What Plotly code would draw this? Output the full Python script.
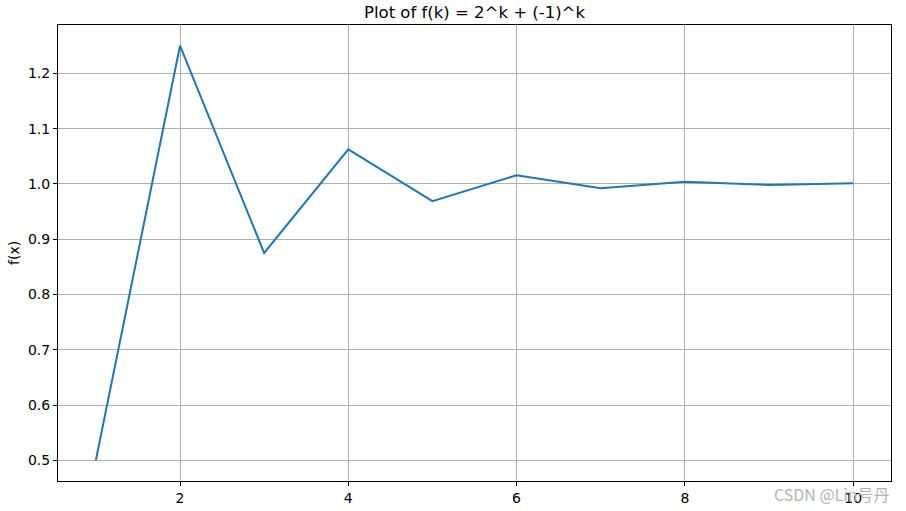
import plotly.graph_objects as go

k_values = [1, 2, 3, 4, 5, 6, 7, 8, 9, 10]
f_values = [0.5, 1.25, 0.875, 1.0625, 0.96875, 1.015625, 0.9921875,
            1.00390625, 0.998046875, 1.0009765625]

x_ticks = [2, 4, 6, 8, 10]
y_ticks = [0.5, 0.6, 0.7, 0.8, 0.9, 1.0, 1.1, 1.2]

fig = go.Figure()
fig.add_trace(go.Scatter(
    x=k_values, y=f_values, mode="lines",
    line=dict(color="#1f77b4", width=2),
))

axis_style = dict(
    showline=True, linecolor="black", linewidth=1, mirror=True,
    showgrid=True, gridcolor="#b0b0b0", gridwidth=1,
    ticks="outside", ticklen=4, tickcolor="black",
    zeroline=False, automargin=False,
    tickfont=dict(family="DejaVu Sans", size=14, color="black"),
)

fig.update_layout(
    width=906, height=511,
    margin=dict(l=58, r=15, t=25, b=30),
    plot_bgcolor="white", paper_bgcolor="white",
    showlegend=False,
    title=dict(text="Plot of f(k) = 2^k + (-1)^k", xref="paper", x=0.5,
               xanchor="center", y=1 - 12 / 511, yanchor="middle",
               font=dict(family="DejaVu Sans", size=16.5, color="black")),
    xaxis=dict(range=[0.55, 10.45], tickvals=x_ticks,
               ticktext=[str(v) for v in x_ticks], **axis_style),
    yaxis=dict(range=[0.4625, 1.2875], tickvals=y_ticks,
               ticktext=[f"{v:.1f}" for v in y_ticks], **axis_style),
)

# y-axis label placed by hand so it doesn't shift the plot area
fig.add_annotation(
    text="f(x)", xref="paper", yref="paper", x=-44 / 833, y=0.5,
    xanchor="center", yanchor="middle", textangle=-90, showarrow=False,
    font=dict(family="DejaVu Sans", size=14, color="black"),
)

fig.add_annotation(
    text="CSDN @Lin号丹", xref="paper", yref="paper",
    x=1.0, y=-13 / 456, xanchor="right", yanchor="middle", showarrow=False,
    font=dict(family="Noto Sans CJK SC, DejaVu Sans", size=16, color="#b4b4b4"),
)

# drop the default body margin so the figure sits at the window's corner
fig.write_html("out.html", config={"displayModeBar": False},
               post_script="document.body.style.margin='0';")
